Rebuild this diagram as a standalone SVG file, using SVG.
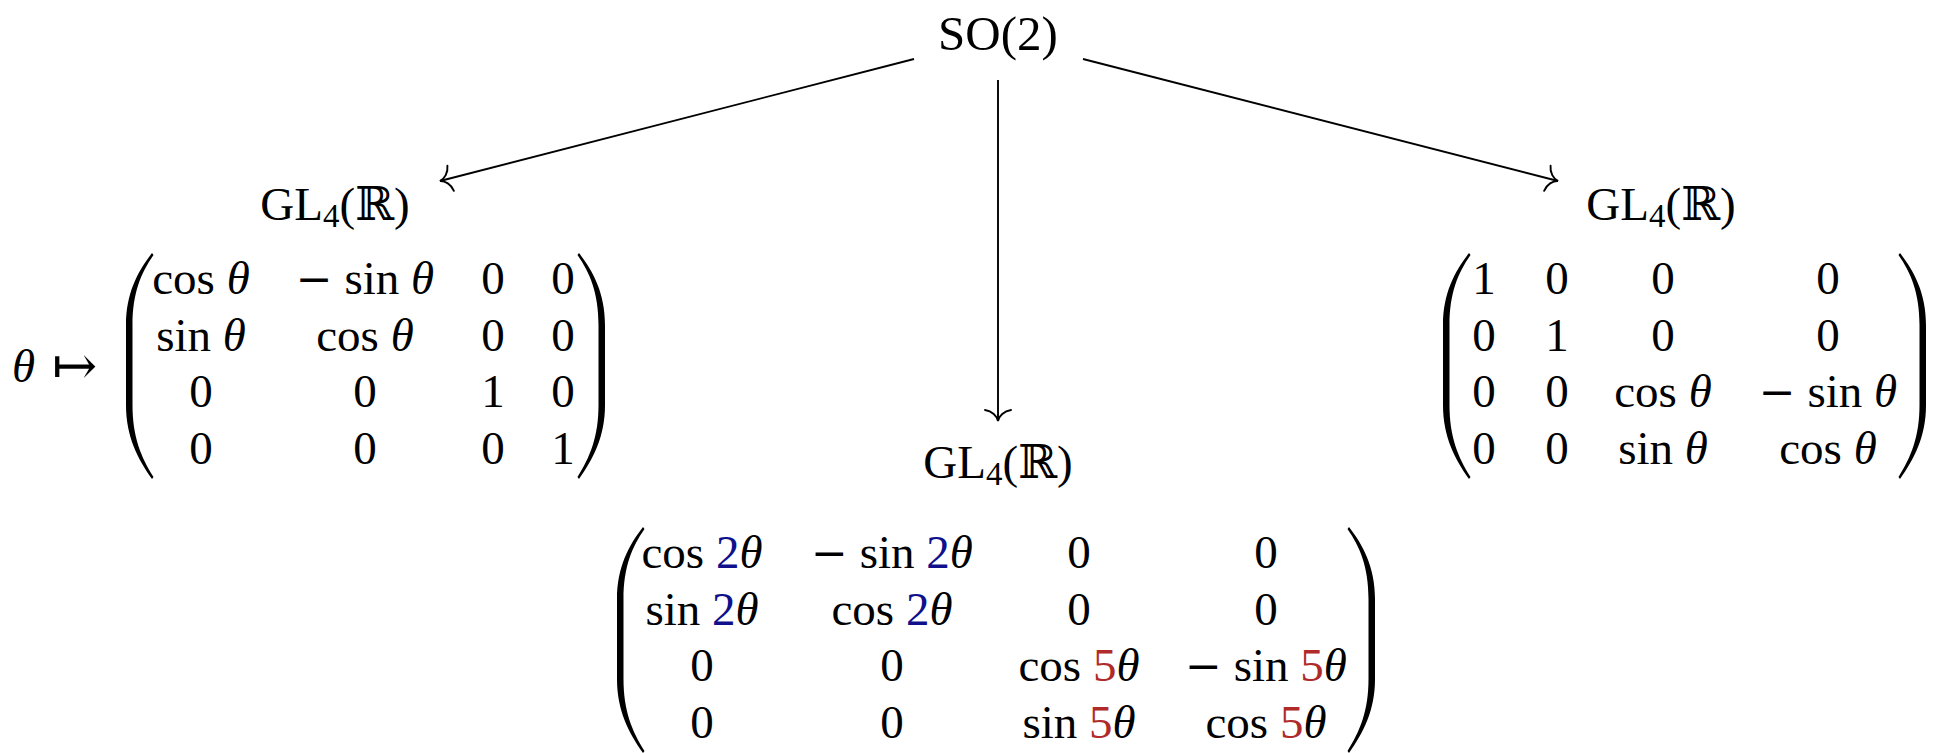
<svg xmlns="http://www.w3.org/2000/svg" width="1942" height="753" viewBox="0 0 1942 753">
<style>
.t{font-family:"Liberation Serif","DejaVu Serif",serif;font-size:47px;fill:#000;text-anchor:middle}
.s{text-anchor:start}
.it{font-style:italic}
.sub{font-size:33px}
.m{font-family:"DejaVu Serif",serif;font-size:44px}
.b{fill:#10108c}
.r{fill:#b02a2a}
.c line{stroke:#000;stroke-width:1.9;fill:none;marker-end:url(#to)}
.par{fill:#000}
</style>
<defs>
<marker id="to" markerUnits="userSpaceOnUse" markerWidth="40" markerHeight="40" refX="0" refY="0" orient="auto" overflow="visible" viewBox="-20 -20 40 40">
<path d="M-11,-13 C-10,-6 -5,-1 0,0 C-5,1 -10,6 -11,13" fill="none" stroke="#000" stroke-width="1.9" stroke-linecap="round"/>
</marker>
<path id="lp" d="M26,0 C12,18 0,40 0,72 L0,152 C0,184 12,206 26,226 L27.5,224 C15,204 6.5,184 6.5,152 L6.5,72 C6.5,40 15,20 27.5,2 Z"/>
</defs>
<rect width="1942" height="753" fill="#fff"/>

<g class="c" id="connectors">
<line x1="914" y1="59" x2="440" y2="181"/>
<line x1="998" y1="80" x2="998" y2="421"/>
<line x1="1083" y1="59" x2="1558" y2="181"/>
</g>

<g id="node-so2">
<text class="t" x="998" y="50" style="font-size:49px">SO(2)</text>
</g>

<g id="node-gl-left">
<text class="t" x="335" y="220">GL<tspan class="sub" dy="7">4</tspan><tspan dy="-7">(ℝ)</tspan></text>
<text class="t s it" x="12" y="382">θ</text>
<text class="t s" x="52" y="384" style="font-family:'DejaVu Serif',serif;font-size:54px">↦</text>
<use href="#lp" class="par" transform="translate(126,253)"/>
<use href="#lp" class="par" transform="translate(605,253) scale(-1,1)"/>
<text class="t" x="201" y="294">cos <tspan class="it">θ</tspan></text>
<text class="t" x="365" y="294"><tspan class="m">−</tspan> sin <tspan class="it">θ</tspan></text>
<text class="t" x="493" y="294">0</text>
<text class="t" x="563" y="294">0</text>
<text class="t" x="201" y="351">sin <tspan class="it">θ</tspan></text>
<text class="t" x="365" y="351">cos <tspan class="it">θ</tspan></text>
<text class="t" x="493" y="351">0</text>
<text class="t" x="563" y="351">0</text>
<text class="t" x="201" y="407">0</text>
<text class="t" x="365" y="407">0</text>
<text class="t" x="493" y="407">1</text>
<text class="t" x="563" y="407">0</text>
<text class="t" x="201" y="464">0</text>
<text class="t" x="365" y="464">0</text>
<text class="t" x="493" y="464">0</text>
<text class="t" x="563" y="464">1</text>
</g>

<g id="node-gl-center">
<text class="t" x="998" y="478">GL<tspan class="sub" dy="7">4</tspan><tspan dy="-7">(ℝ)</tspan></text>
<use href="#lp" class="par" transform="translate(617,527)"/>
<use href="#lp" class="par" transform="translate(1375,527) scale(-1,1)"/>
<text class="t" x="702" y="568">cos <tspan class="b">2</tspan><tspan class="it">θ</tspan></text>
<text class="t" x="892" y="568"><tspan class="m">−</tspan> sin <tspan class="b">2</tspan><tspan class="it">θ</tspan></text>
<text class="t" x="1079" y="568">0</text>
<text class="t" x="1266" y="568">0</text>
<text class="t" x="702" y="625">sin <tspan class="b">2</tspan><tspan class="it">θ</tspan></text>
<text class="t" x="892" y="625">cos <tspan class="b">2</tspan><tspan class="it">θ</tspan></text>
<text class="t" x="1079" y="625">0</text>
<text class="t" x="1266" y="625">0</text>
<text class="t" x="702" y="681">0</text>
<text class="t" x="892" y="681">0</text>
<text class="t" x="1079" y="681">cos <tspan class="r">5</tspan><tspan class="it">θ</tspan></text>
<text class="t" x="1266" y="681"><tspan class="m">−</tspan> sin <tspan class="r">5</tspan><tspan class="it">θ</tspan></text>
<text class="t" x="702" y="738">0</text>
<text class="t" x="892" y="738">0</text>
<text class="t" x="1079" y="738">sin <tspan class="r">5</tspan><tspan class="it">θ</tspan></text>
<text class="t" x="1266" y="738">cos <tspan class="r">5</tspan><tspan class="it">θ</tspan></text>
</g>

<g id="node-gl-right">
<text class="t" x="1661" y="220">GL<tspan class="sub" dy="7">4</tspan><tspan dy="-7">(ℝ)</tspan></text>
<use href="#lp" class="par" transform="translate(1443,253)"/>
<use href="#lp" class="par" transform="translate(1926,253) scale(-1,1)"/>
<text class="t" x="1484" y="294">1</text>
<text class="t" x="1557" y="294">0</text>
<text class="t" x="1663" y="294">0</text>
<text class="t" x="1828" y="294">0</text>
<text class="t" x="1484" y="351">0</text>
<text class="t" x="1557" y="351">1</text>
<text class="t" x="1663" y="351">0</text>
<text class="t" x="1828" y="351">0</text>
<text class="t" x="1484" y="407">0</text>
<text class="t" x="1557" y="407">0</text>
<text class="t" x="1663" y="407">cos <tspan class="it">θ</tspan></text>
<text class="t" x="1828" y="407"><tspan class="m">−</tspan> sin <tspan class="it">θ</tspan></text>
<text class="t" x="1484" y="464">0</text>
<text class="t" x="1557" y="464">0</text>
<text class="t" x="1663" y="464">sin <tspan class="it">θ</tspan></text>
<text class="t" x="1828" y="464">cos <tspan class="it">θ</tspan></text>
</g>
</svg>
